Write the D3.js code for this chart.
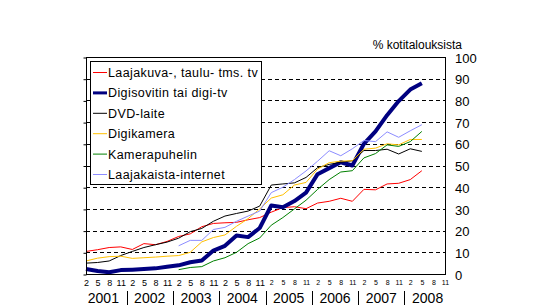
<!DOCTYPE html>
<html>
<head>
<meta charset="utf-8">
<script src="https://cdn.jsdelivr.net/npm/d3@7"></script>
<style>
  body { margin: 0; background: #fff; }
  svg { display: block; font-family: "Liberation Sans", Arial, sans-serif; }
</style>
</head>
<body>
<div id="chart"></div>
<script>
// survey months (Feb, May, Aug, Nov), Feb 2001 .. May 2008
var years = [2001, 2002, 2003, 2004, 2005, 2006, 2007, 2008];
var quarterMonths = [2, 5, 8, 11];

var laajakuva     = [10.4,11.2,12.2,12.5,11.3,14,13.5,15,17.3,18.5,21.8,23.3,23.6,23.8,25,26,28.5,30.6,31,30.1,32.7,33.5,34.9,33.5,39,38.8,41.5,41.8,43.5,47.6];
var digisovitin   = [2.3,1.4,0.8,1.8,2,2.3,2.6,3.3,4,5.4,6.2,10.8,13,17.7,17,21.2,31.6,30.8,33.6,37.5,46,48.8,51.5,50,60,65.7,73.2,79.7,85,87.9];
var dvd           = [5,5.3,6,8.5,10.4,12.2,13.5,14.7,16.5,19.5,21,24.3,26.7,27.9,29,31.3,41,41.5,42,44.5,49,50.5,51.5,52.2,56.9,56.9,57.5,55.3,57.7,56.5];
var digikamera    = [6,7.3,8,8.2,7.2,7.5,7.8,8.2,8.5,10,14.8,16.8,18,22,25.5,30,35,36.5,41,42.2,48.4,51.3,52,52.2,57.5,58,60,59.5,62,62];
var kamerapuhelin = [null,null,null,null,null,null,null,null,2,3,3.4,6,7.5,10,14,16.6,22.5,26,30,34,39,43.5,47,47.6,53.5,55.5,59.5,58.8,61,65.7];
var laajakaista   = [null,null,null,null,null,null,null,null,13,15.5,15.5,20.5,21.5,24.3,26.7,29,37.5,40,43.5,47.5,52,56.8,54.5,57.7,61.5,61,65.5,63,66,68.8];

var series = [
  {name: "Laajakuva-, taulu- tms. tv", values: laajakuva, color: "#ff0000", width: 1},
  {name: "Digisovitin tai digi-tv", values: digisovitin, color: "#000080", width: 4},
  {name: "DVD-laite", values: dvd, color: "#000000", width: 1},
  {name: "Digikamera", values: digikamera, color: "#ffc000", width: 1},
  {name: "Kamerapuhelin", values: kamerapuhelin, color: "#008000", width: 1},
  {name: "Laajakaista-internet", values: laajakaista, color: "#8c8cff", width: 1}
];

var width = 553, height = 306;
var plotLeft = 86, plotRight = 445, plotTop = 57, plotBottom = 274;

var svg = d3.select("#chart").append("svg")
    .attr("width", width)
    .attr("height", height);

// months counted from Feb 2001
var x = d3.scaleLinear().domain([0, 93]).range([plotLeft, plotRight]);
var y = d3.scaleLinear().domain([0, 100]).range([plotBottom, plotTop]);

var monthIdx = function(i) { return i * 3; };

// grid
svg.append("g")
  .selectAll("line")
  .data(d3.range(10, 100, 10))
  .enter().append("line")
    .attr("x1", plotLeft).attr("x2", plotRight)
    .attr("y1", function(d) { return Math.round(y(d)) + 0.5; })
    .attr("y2", function(d) { return Math.round(y(d)) + 0.5; })
    .attr("stroke", "#000")
    .attr("stroke-dasharray", "4,3");

// lines
var line = d3.line()
    .defined(function(d) { return d != null; })
    .x(function(d, i) { return x(monthIdx(i)); })
    .y(function(d) { return y(d); });

svg.append("g")
  .selectAll("path")
  .data(series)
  .enter().append("path")
    .attr("fill", "none")
    .attr("stroke", function(d) { return d.color; })
    .attr("stroke-width", function(d) { return d.width; })
    .attr("stroke-linejoin", "round")
    .attr("d", function(d) { return line(d.values); });

// frame
svg.append("rect")
    .attr("x", plotLeft + 0.5).attr("y", plotTop + 0.5)
    .attr("width", plotRight - plotLeft).attr("height", plotBottom - plotTop)
    .attr("fill", "none").attr("stroke", "#000");

// left ticks
svg.append("g")
    .attr("transform", "translate(" + (plotLeft + 0.5) + ",0.5)")
    .call(d3.axisLeft(y).tickValues(d3.range(0, 101, 10)).tickSize(3).tickFormat(""))
    .call(function(g) { g.select(".domain").remove(); });

// right labels
svg.append("g")
    .attr("transform", "translate(" + (plotRight + 10) + ",1)")
    .call(d3.axisRight(y).tickValues(d3.range(0, 101, 10)).tickSize(0).tickPadding(0))
    .call(function(g) { g.select(".domain").remove(); })
    .selectAll("text")
    .style("font-family", "'Liberation Sans', Arial, sans-serif")
    .style("font-size", "13px");

svg.append("text")
    .attr("x", 462).attr("y", 49)
    .attr("text-anchor", "end")
    .style("font-size", "12px")
    .text("% kotitalouksista");

// x ticks
var ticks = [];
years.forEach(function(yr, k) {
  quarterMonths.forEach(function(m, j) {
    ticks.push({month: k * 12 + j * 3, label: String(m), year: yr});
  });
});

svg.append("g")
    .attr("transform", "translate(0," + (plotBottom + 4) + ")")
    .call(d3.axisBottom(x).tickValues(ticks.map(function(t) { return t.month; }))
      .tickSize(0).tickPadding(2)
      .tickFormat(function(d, i) { return ticks[i].label; }))
    .call(function(g) { g.select(".domain").remove(); })
    .selectAll("text")
    .style("font-family", "'Liberation Sans', Arial, sans-serif")
    .style("font-size", function(d, i) { return ticks[i].year < 2005 ? "9px" : "7px"; });

// year labels and separators
svg.append("g")
  .selectAll("text")
  .data(years)
  .enter().append("text")
    .attr("x", function(d, k) { return x(k * 12 + 4.5); })
    .attr("y", 303)
    .attr("text-anchor", "middle")
    .style("font-size", "14px")
    .text(function(d) { return d; });

svg.append("g")
  .selectAll("line")
  .data(years.slice(1))
  .enter().append("line")
    .attr("x1", function(d, k) { return Math.round(x((k + 1) * 12 - 1.5)) + 0.5; })
    .attr("x2", function(d, k) { return Math.round(x((k + 1) * 12 - 1.5)) + 0.5; })
    .attr("y1", 291).attr("y2", 305)
    .attr("stroke", "#000");

// legend
var lg = svg.append("g");
lg.append("rect")
    .attr("x", 90.5).attr("y", 61.5)
    .attr("width", 171).attr("height", 123)
    .attr("fill", "#fff").attr("stroke", "#000");

var item = lg.selectAll(".item")
  .data(series)
  .enter().append("g")
    .attr("transform", function(d, i) { return "translate(93," + (72.5 + i * 20.4) + ")"; });

item.append("line")
    .attr("x1", 0).attr("x2", 14)
    .attr("stroke", function(d) { return d.color; })
    .attr("stroke-width", function(d) { return d.width === 4 ? 3 : 1; });

item.append("text")
    .attr("x", 15).attr("y", 4.5)
    .style("font-size", "12.5px")
    .style("letter-spacing", "0.4px")
    .text(function(d) { return d.name; });
</script>
</body>
</html>
